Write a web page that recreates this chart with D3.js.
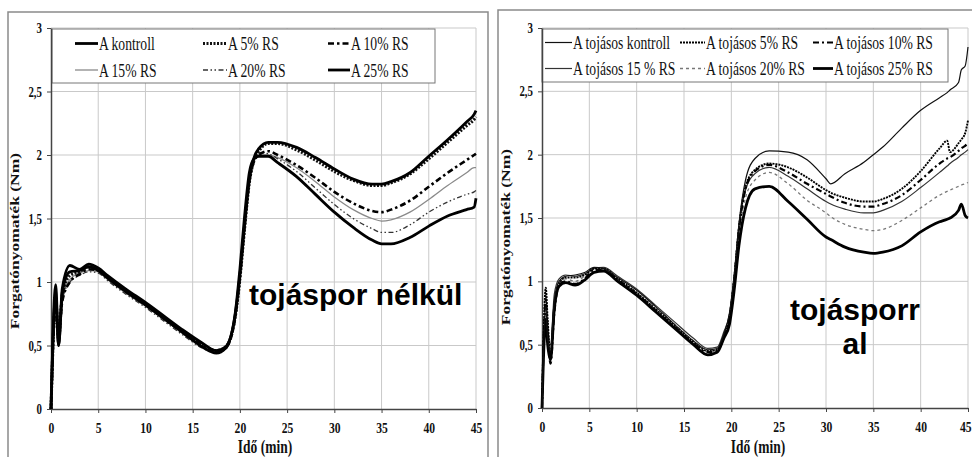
<!DOCTYPE html>
<meta charset="utf-8">
<head>
  <title>Forgatónyomaték</title>
  <script src="https://cdn.jsdelivr.net/npm/d3@7"></script>
  <style>
    body { margin: 0; background: #fff; }
    svg { display: block; }
    .grid line { stroke: #c9c9c9; stroke-width: 1; }
    .serif { font-family: "Liberation Serif", "Times New Roman", serif; fill: #111; }
    .note { font-family: "Liberation Sans", Arial, sans-serif; font-weight: bold; font-size: 30px; fill: #000; }
  </style>
</head>
<body>
<svg width="972" height="457"></svg>
<script>
// tick values
const xTicks = [0, 5, 10, 15, 20, 25, 30, 35, 40, 45];
const yTicks = [0, 0.5, 1, 1.5, 2, 2.5, 3];

// left chart: tojáspor nélkül
const leftNames = ["A kontroll", "A 5% RS", "A 10% RS", "A 15% RS", "A 20% RS", "A 25% RS"];
const leftTimes = [0, 0.5, 0.8, 1.2, 2, 3, 4, 5, 6, 8, 10, 12, 14, 16, 17.5, 18.5, 19.5, 20, 20.5, 21, 21.5, 22, 23, 24, 26, 28, 30, 32, 34, 35, 36, 38, 40, 42, 44, 44.8, 45];
const leftKontroll = [0, 0.98, 0.5, 0.95, 1.13, 1.10, 1.14, 1.11, 1.05, 0.94, 0.84, 0.73, 0.62, 0.52, 0.46, 0.49, 0.74, 1.05, 1.45, 1.80, 1.98, 2.05, 2.10, 2.10, 2.06, 1.98, 1.89, 1.81, 1.77, 1.77, 1.79, 1.86, 1.99, 2.12, 2.26, 2.32, 2.35];
const left5 = [0, 0.85, 0.55, 0.9, 1.05, 1.08, 1.12, 1.10, 1.04, 0.93, 0.83, 0.72, 0.61, 0.51, 0.46, 0.49, 0.72, 1.02, 1.42, 1.78, 1.96, 2.03, 2.09, 2.09, 2.04, 1.96, 1.87, 1.80, 1.76, 1.76, 1.78, 1.85, 1.97, 2.10, 2.23, 2.28, 2.30];
const left10 = [0, 0.8, 0.6, 0.85, 1.0, 1.06, 1.10, 1.09, 1.03, 0.92, 0.82, 0.71, 0.60, 0.50, 0.45, 0.48, 0.72, 1.04, 1.44, 1.80, 1.95, 2.00, 2.03, 2.00, 1.92, 1.82, 1.71, 1.62, 1.56, 1.55, 1.57, 1.64, 1.75, 1.86, 1.96, 2.00, 2.01];
const left15 = [0, 0.75, 0.65, 0.88, 1.02, 1.07, 1.09, 1.08, 1.02, 0.91, 0.81, 0.70, 0.59, 0.49, 0.45, 0.48, 0.73, 1.06, 1.47, 1.82, 1.96, 2.00, 2.00, 1.98, 1.90, 1.79, 1.67, 1.57, 1.50, 1.48, 1.49, 1.55, 1.65, 1.76, 1.86, 1.90, 1.90];
const left20 = [0, 0.7, 0.6, 0.86, 1.0, 1.05, 1.08, 1.07, 1.01, 0.90, 0.80, 0.69, 0.58, 0.48, 0.44, 0.47, 0.74, 1.08, 1.50, 1.85, 1.98, 2.02, 2.01, 1.97, 1.87, 1.74, 1.61, 1.50, 1.42, 1.39, 1.39, 1.45, 1.55, 1.63, 1.69, 1.71, 1.72];
const left25 = [0, 0.9, 0.5, 0.92, 1.08, 1.09, 1.12, 1.09, 1.03, 0.92, 0.82, 0.71, 0.60, 0.49, 0.44, 0.48, 0.75, 1.10, 1.52, 1.86, 1.97, 1.99, 1.99, 1.94, 1.83, 1.69, 1.55, 1.43, 1.33, 1.30, 1.30, 1.35, 1.44, 1.52, 1.57, 1.59, 1.66];

// right chart: tojásporral
const rightNames = ["A tojásos kontroll", "A tojásos 5% RS", "A tojásos 10% RS", "A tojásos 15 % RS", "A tojásos 20% RS", "A tojásos 25% RS"];
const rightTimes = [0, 0.4, 0.6, 0.9, 1.3, 1.8, 2.5, 3.5, 4.5, 5.5, 6.5, 8, 10, 12, 14, 16, 17.5, 18.5, 19.2, 19.8, 20.3, 20.8, 21.5, 22.5, 24, 26, 28, 30, 30.5, 32, 34, 35, 36, 38, 40, 42, 42.8, 43.1, 44, 44.3, 44.7, 45];
const rightKontroll = [0, 0.80, 0.55, 0.45, 0.85, 1.00, 1.04, 1.05, 1.07, 1.11, 1.10, 1.03, 0.93, 0.80, 0.66, 0.53, 0.46, 0.47, 0.58, 0.75, 1.05, 1.45, 1.80, 1.97, 2.03, 2.02, 1.96, 1.81, 1.77, 1.85, 1.94, 2.00, 2.06, 2.21, 2.35, 2.45, 2.49, 2.51, 2.57, 2.67, 2.70, 2.85];
const right5 = [0, 0.95, 0.70, 0.40, 0.80, 0.98, 1.03, 1.03, 1.05, 1.10, 1.10, 1.02, 0.91, 0.78, 0.65, 0.52, 0.45, 0.46, 0.57, 0.72, 1.02, 1.42, 1.75, 1.88, 1.93, 1.90, 1.82, 1.72, 1.70, 1.66, 1.63, 1.63, 1.65, 1.73, 1.87, 2.05, 2.11, 2.02, 2.09, 2.12, 2.17, 2.27];
const right10 = [0, 0.85, 0.60, 0.35, 0.75, 0.97, 1.00, 0.98, 1.02, 1.09, 1.09, 1.01, 0.90, 0.77, 0.64, 0.51, 0.44, 0.45, 0.56, 0.70, 1.00, 1.40, 1.73, 1.87, 1.92, 1.86, 1.77, 1.69, 1.67, 1.62, 1.59, 1.59, 1.61, 1.68, 1.80, 1.93, 1.97, 1.98, 2.03, 2.05, 2.07, 2.09];
const right15 = [0, 0.90, 0.65, 0.50, 0.90, 1.02, 1.05, 1.04, 1.06, 1.10, 1.11, 1.04, 0.94, 0.81, 0.68, 0.55, 0.47, 0.48, 0.60, 0.74, 1.04, 1.43, 1.72, 1.85, 1.90, 1.83, 1.73, 1.63, 1.61, 1.57, 1.54, 1.54, 1.56, 1.63, 1.74, 1.86, 1.91, 1.93, 1.98, 2.00, 2.02, 2.04];
const right20 = [0, 0.75, 0.60, 0.42, 0.82, 0.98, 1.02, 1.00, 1.04, 1.09, 1.09, 1.02, 0.91, 0.79, 0.66, 0.53, 0.45, 0.46, 0.58, 0.70, 0.98, 1.35, 1.66, 1.80, 1.86, 1.77, 1.64, 1.54, 1.51, 1.45, 1.41, 1.40, 1.41, 1.48, 1.58, 1.68, 1.71, 1.72, 1.75, 1.76, 1.77, 1.78];
const right25 = [0, 0.70, 0.50, 0.38, 0.78, 0.96, 0.99, 0.97, 1.01, 1.07, 1.08, 1.00, 0.89, 0.76, 0.63, 0.50, 0.42, 0.44, 0.55, 0.66, 0.93, 1.28, 1.58, 1.73, 1.75, 1.63, 1.49, 1.35, 1.33, 1.27, 1.23, 1.22, 1.23, 1.28, 1.39, 1.47, 1.49, 1.50, 1.56, 1.61, 1.52, 1.50];

const leftStyles = [
  { stroke: "#000", width: 2.8, dash: null },
  { stroke: "#111", width: 3, dash: "2,1.5" },
  { stroke: "#000", width: 2.6, dash: "6,3,2.5,3" },
  { stroke: "#8a8a8a", width: 1.3, dash: null },
  { stroke: "#333", width: 1.3, dash: "5,2.5,1.5,2.5,1.5,2.5" },
  { stroke: "#000", width: 2.8, dash: null }
];
const rightStyles = [
  { stroke: "#111", width: 1.2, dash: null },
  { stroke: "#000", width: 1.9, dash: "2,1" },
  { stroke: "#000", width: 2.2, dash: "6,3,2,3" },
  { stroke: "#333", width: 1.2, dash: null },
  { stroke: "#777", width: 1.3, dash: "3,3" },
  { stroke: "#000", width: 2.8, dash: null }
];

const svg = d3.select("svg");
const fmt = d3.formatLocale({ decimal: ",", thousands: " ", grouping: [3], currency: ["", ""] }).format("~g");

// outer frames
svg.append("rect").attr("x", 8).attr("y", 12).attr("width", 480).attr("height", 470)
  .attr("fill", "none").attr("stroke", "#8a8a8a").attr("stroke-width", 1.5);
svg.append("rect").attr("x", 498).attr("y", 10).attr("width", 490).attr("height", 470)
  .attr("fill", "none").attr("stroke", "#8a8a8a").attr("stroke-width", 1.5);

function drawPanel(cfg) {
  const x = d3.scaleLinear().domain([0, 45]).range([cfg.x0, cfg.x1]);
  const y = d3.scaleLinear().domain([0, 3]).range([cfg.y0, cfg.y1]);
  const g = svg.append("g");

  const grid = g.append("g").attr("class", "grid");
  grid.selectAll(".v").data(xTicks.slice(1)).join("line")
    .attr("x1", d => x(d)).attr("x2", d => x(d)).attr("y1", cfg.y0).attr("y2", cfg.y1);
  grid.selectAll(".h").data(yTicks.slice(1)).join("line").attr("class", "h")
    .attr("x1", cfg.x0).attr("x2", cfg.x1).attr("y1", d => y(d)).attr("y2", d => y(d));

  // legend box (covers grid)
  const lg = cfg.legend;
  g.append("rect").attr("x", lg.x).attr("y", lg.y).attr("width", lg.w).attr("height", lg.h)
    .attr("fill", "#fff").attr("stroke", "#777").attr("stroke-width", 1);

  // axes
  const xa = g.append("g").attr("transform", `translate(0,${cfg.y0})`)
    .call(d3.axisBottom(x).tickValues(xTicks).tickSize(4).tickPadding(10).tickSizeOuter(0));
  const ya = g.append("g").attr("transform", `translate(${cfg.x0},0)`)
    .call(d3.axisLeft(y).tickValues(yTicks).tickFormat(fmt).tickSize(4).tickPadding(5).tickSizeOuter(0));
  [xa, ya].forEach(a => {
    a.select(".domain").attr("stroke", "#444").attr("stroke-width", 1.5);
    a.selectAll(".tick line").attr("stroke", "#444");
    a.selectAll("text").attr("class", "serif").attr("font-size", 14.5).attr("font-weight", "bold")
      .attr("fill", "#111");
  });
  xa.selectAll("text").attr("transform", "scale(0.8,1)");
  ya.selectAll("text").attr("x", -9 / 0.75).attr("transform", "scale(0.75,1)");
  if (cfg.clampLast) {
    // keep the last x label inside the window
    xa.selectAll(".tick text").filter(d => d === 45)
      .attr("text-anchor", "end").attr("x", 3 / 0.8);
  }

  const lineGen = d3.line()
    .x((d, i) => x(cfg.times[i]))
    .y(d => y(d))
    .curve(d3.curveMonotoneX);

  const order = [3, 4, 2, 1, 5, 0];
  g.append("g").attr("fill", "none").selectAll("path").data(order).join("path")
    .attr("d", k => lineGen(cfg.series[k]))
    .attr("stroke", k => cfg.styles[k].stroke)
    .attr("stroke-width", k => cfg.styles[k].width)
    .attr("stroke-dasharray", k => cfg.styles[k].dash)
    .attr("stroke-linejoin", "round");

  // legend items
  cfg.names.forEach((name, k) => {
    const col = k % 3, row = Math.floor(k / 3);
    const lx = lg.cols[col], ly = lg.rows[row], len = lg.len[col];
    const st = cfg.styles[k];
    g.append("line").attr("x1", lx).attr("x2", lx + len).attr("y1", ly).attr("y2", ly)
      .attr("stroke", st.stroke).attr("stroke-width", st.width).attr("stroke-dasharray", st.dash);
    g.append("text").attr("class", "serif").attr("font-size", 19.5)
      .attr("transform", `translate(${lx + len + 1},${ly + 6.5}) scale(0.7,1)`)
      .text(name);
  });

  // axis titles
  g.append("text").attr("class", "serif").attr("font-size", 18).attr("font-weight", "bold")
    .attr("text-anchor", "middle")
    .attr("transform", `translate(${cfg.xTitle[0]},${cfg.xTitle[1]}) scale(0.75,1)`)
    .text("Idő (min)");
  g.append("text").attr("class", "serif").attr("font-size", 17.5).attr("font-weight", "bold")
    .attr("text-anchor", "middle")
    .attr("transform", `translate(${cfg.yTitle[0]},${cfg.yTitle[1]}) rotate(-90) scale(1,0.72)`)
    .text("Forgatónyomaték (Nm)");

  cfg.notes.forEach(n => {
    g.append("text").attr("class", "note").attr("x", n.x).attr("y", n.y)
      .attr("text-anchor", n.anchor).text(n.text);
  });
}

drawPanel({
  x0: 51, x1: 476, y0: 409, y1: 28,
  times: leftTimes,
  series: [leftKontroll, left5, left10, left15, left20, left25],
  names: leftNames, styles: leftStyles,
  legend: { x: 52, y: 29, w: 383, h: 54, cols: [75, 203, 328], rows: [43.5, 70], len: [23, 24, 22] },
  xTitle: [265, 453], yTitle: [19, 241],
  notes: [{ text: "tojáspor nélkül", x: 249, y: 305, anchor: "start" }]
});

drawPanel({
  x0: 542, x1: 968, y0: 408, y1: 28,
  times: rightTimes, clampLast: true,
  series: [rightKontroll, right5, right10, right15, right20, right25],
  names: rightNames, styles: rightStyles,
  legend: { x: 542, y: 29, w: 406, h: 53, cols: [545, 680, 813], rows: [42.5, 68.5], len: [27, 25, 20] },
  xTitle: [758, 453], yTitle: [510, 237],
  notes: [
    { text: "tojásporr", x: 855, y: 320, anchor: "middle" },
    { text: "al", x: 855, y: 354, anchor: "middle" }
  ]
});
</script>
</body>
